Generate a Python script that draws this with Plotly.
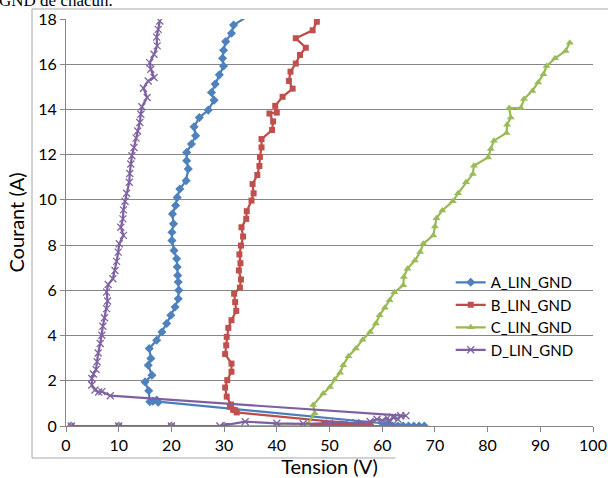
import plotly.graph_objects as go

# ---- data (Tension V, Courant A) ----
A_V = [1, 10, 20, 30, 40, 50, 60, 61, 62, 63, 64, 65, 66, 67, 68, 61,
       17.5, 16.5, 17.2, 15.9, 15.7, 15.0, 16.3, 15.6, 16.1, 15.8, 17.2, 18.2, 19.1, 19.9,
       20.7, 21.3, 21.4, 21.3, 21.2, 21.1, 21.0, 20.5, 20.1, 20.1, 20.4, 20.2, 20.8, 21.1,
       21.6, 22.8, 23.2, 22.9, 22.9, 23.8, 24.6, 24.3, 25.3, 27.0, 28.1, 27.6, 28.3, 29.1,
       29.9, 29.7, 29.9, 30.3, 31.4, 31.8, 36.0]
A_I = [0, 0, 0, 0, 0, 0, 0, 0, 0, 0, 0, 0, 0, 0, 0, 0.1,
       1.05, 1.1, 1.15, 1.07, 1.56, 1.95, 2.25, 2.69, 2.99, 3.43, 3.79, 4.16, 4.53, 4.9,
       5.26, 5.63, 6.0, 6.37, 6.66, 7.03, 7.4, 7.76, 8.2, 8.57, 8.94, 9.38, 9.75, 10.11,
       10.48, 10.85, 11.37, 11.73, 12.1, 12.47, 12.84, 13.23, 13.64, 13.97, 14.41, 14.75, 15.12, 15.53,
       15.92, 16.26, 16.62, 17.0, 17.37, 17.73, 18.35]

B_V = [1, 10, 20, 30.5, 40.2, 49, 50, 51, 52, 53, 54, 55, 56, 57, 57.7,
       32.4, 32.1, 31.7, 31.1, 31.3, 30.5, 30.2, 30.6, 31.4, 31.4, 30.2, 30.4, 30.5, 30.8,
       31.4, 32.3, 32.1, 31.9, 33.0, 33.2, 32.8, 33.1, 32.9, 33.2, 33.6, 33.3, 34.2, 34.3,
       35.2, 35.6, 35.4, 36.3, 36.7, 36.8, 37.1, 37.1, 39.1, 39.3, 38.6, 40.0, 39.7, 41.1,
       43.0, 42.3, 42.6, 43.6, 44.4, 45.5, 43.6, 46.8, 47.6]
B_I = [0, 0, 0, 0, 0, 0.08, 0.1, 0.1, 0.1, 0.08, 0, 0, 0, 0, 0.03,
       0.6, 0.7, 0.72, 0.85, 0.95, 1.3, 1.7, 2.03, 2.4, 2.76, 3.18, 3.57, 3.94, 4.34,
       4.68, 5.09, 5.48, 5.85, 6.12, 6.48, 6.88, 7.2, 7.59, 7.98, 8.38, 8.79, 9.16, 9.5,
       9.97, 10.29, 10.7, 11.1, 11.5, 11.9, 12.32, 12.69, 13.09, 13.47, 13.82, 13.86, 14.16, 14.56,
       14.92, 15.26, 15.67, 16.03, 16.41, 16.73, 17.15, 17.5, 17.88]

C_V = [1, 10, 20, 30, 40, 41, 42, 43, 44, 45, 45.7,
       47.2, 46.9, 48.8, 50.1, 51.0, 52.0, 52.6, 53.6, 55.0, 56.3, 57.7, 58.8, 59.5, 60.5,
       61.4, 62.3, 64.0, 64.1, 64.8, 66.2, 67.2, 67.8, 69.7, 70.0, 70.3, 71.4, 73.4, 74.4,
       75.9, 77.2, 77.4, 80.1, 80.6, 81.2, 83.6, 83.7, 84.4, 84.1, 86.3, 86.9, 88.5, 89.6,
       90.6, 91.2, 92.8, 94.8, 95.6]
C_I = [0, 0, 0, 0, 0, 0, 0, 0, 0, 0, 0.05,
       0.56, 0.93, 1.44, 1.73, 2.06, 2.35, 2.69, 3.09, 3.43, 3.82, 4.16, 4.53, 4.9, 5.23,
       5.56, 5.92, 6.22, 6.59, 6.96, 7.32, 7.69, 8.06, 8.43, 8.82, 9.19, 9.53, 9.94, 10.29,
       10.78, 11.15, 11.51, 11.88, 12.25, 12.62, 12.96, 13.32, 13.64, 14.06, 14.06, 14.46, 14.82, 15.19,
       15.56, 15.92, 16.26, 16.59, 16.95]

D_V = [1, 10, 20, 29.2, 34, 40, 45, 50, 55, 57.7, 59, 60, 61, 61.5, 62, 63, 63.5, 64.5,
       8.4, 6.8, 6.2, 5.5, 4.9, 4.9, 5.2, 5.7, 5.9, 6.1, 6.5, 6.8, 7.0, 7.3, 7.7, 7.9,
       7.7, 8.0, 8.9, 9.3, 9.6, 9.9, 10.1, 10.9, 10.4, 10.8, 10.9, 11.2, 11.5, 12.0,
       12.1, 12.3, 12.5, 12.9, 13.3, 13.6, 14.0, 14.2, 14.4, 15.4, 14.7, 15.6, 16.7, 16.1,
       15.9, 16.7, 17.3, 17.2, 17.5, 17.8]
D_I = [0, 0, 0, 0, 0.19, 0.12, 0.1, 0.12, 0.15, 0.2, 0.3, 0.25, 0.35, 0.2, 0.4, 0.3, 0.45, 0.45,
       1.34, 1.52, 1.5, 1.59, 1.81, 2.1, 2.3, 2.5, 2.84, 3.23, 3.65, 4.01, 4.41, 4.79, 5.19, 5.53,
       5.92, 6.26, 6.51, 6.88, 7.28, 7.69, 8.06, 8.43, 8.79, 9.16, 9.56, 9.94, 10.29, 10.78,
       11.17, 11.59, 11.95, 12.32, 12.73, 13.05, 13.42, 13.79, 14.12, 14.53, 14.94, 15.26, 15.41, 15.78,
       16.07, 16.44, 16.81, 17.2, 17.54, 17.91]

series_names = ["A_LIN_GND", "B_LIN_GND", "C_LIN_GND", "D_LIN_GND"]
x_ticks = list(range(0, 101, 10))
y_ticks = list(range(0, 19, 2))

FONT = "Lato"

styles = [
    dict(line="#4A7EBB", marker="#4F81BD", symbol="diamond", size=7),
    dict(line="#BE4B48", marker="#C0504D", symbol="square", size=6),
    dict(line="#98B954", marker="#9BBB59", symbol="triangle-up", size=7),
    dict(line="#7D60A0", marker="#8064A2", symbol="x-thin", size=7),
]

fig = go.Figure()
for name, xs, ys, st in zip(series_names, [A_V, B_V, C_V, D_V], [A_I, B_I, C_I, D_I], styles):
    mk = dict(symbol=st["symbol"], size=st["size"], color=st["marker"])
    if st["symbol"] == "x-thin":
        mk["line"] = dict(color=st["marker"], width=1.3)
    else:
        mk["line"] = dict(width=0)
    fig.add_trace(go.Scatter(
        x=xs, y=ys, name=name, mode="lines+markers",
        line=dict(color=st["line"], width=2.2),
        marker=mk,
    ))

fig.update_layout(
    width=608, height=478,
    margin=dict(l=66, r=15, t=19, b=52, autoexpand=False),
    paper_bgcolor="white", plot_bgcolor="white",
    font=dict(family=FONT, color="black", size=16),
    showlegend=True,
    legend=dict(x=0.73, y=0.393, xanchor="left", yanchor="top",
                font=dict(family=FONT, size=15, color="black"),
                bgcolor="rgba(0,0,0,0)", tracegroupgap=0, itemwidth=30),
    xaxis=dict(range=[0, 100], tickvals=x_ticks, ticktext=[str(v) for v in x_ticks],
               showgrid=False, zeroline=False, showline=True, linecolor="#868686", linewidth=1,
               ticks="outside", ticklen=5, tickcolor="#868686", automargin=False,
               tickfont=dict(family=FONT, size=16),
               title=dict(text="Tension (V)", font=dict(family=FONT, size=20), standoff=4)),
    yaxis=dict(range=[0, 18], tickvals=y_ticks, ticktext=[str(v) for v in y_ticks],
               showgrid=True, gridcolor="#868686", gridwidth=1, zeroline=False,
               showline=True, linecolor="#868686", linewidth=1,
               ticks="outside", ticklen=5, tickcolor="#868686", automargin=False,
               tickfont=dict(family=FONT, size=16),
               title=dict(text="Courant (A)", font=dict(family=FONT, size=20), standoff=8)),
)

# chart frame (partly outside the visible crop)
fig.add_shape(type="line", xref="paper", yref="paper", x0=-0.0645, x1=1.2, y0=1.0246, y1=1.0246,
              line=dict(color="#A6A6A6", width=1))
fig.add_shape(type="line", xref="paper", yref="paper", x0=-0.0645, x1=-0.0645, y0=1.0246, y1=-0.0786,
              line=dict(color="#A6A6A6", width=1))
fig.add_shape(type="line", xref="paper", yref="paper", x0=-0.0645, x1=0.625, y0=-0.0786, y1=-0.0786,
              line=dict(color="#A6A6A6", width=1))

# cut-off document text above the chart
fig.add_annotation(text="GND de chacun.", xref="paper", yref="paper", x=-0.131, y=1.017,
                   xanchor="left", yanchor="bottom", showarrow=False,
                   font=dict(family="Liberation Serif", size=17, color="black"))

fig.write_html("out.html", config={"displayModeBar": False},
               post_script="document.body.style.margin='0';document.body.style.padding='0';")
